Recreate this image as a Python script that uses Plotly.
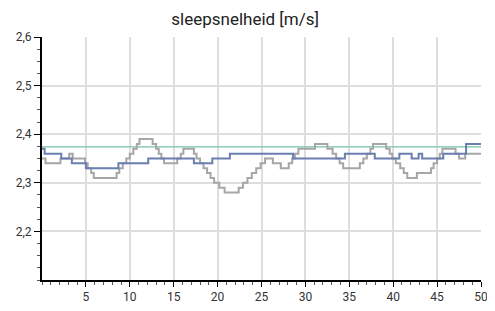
import plotly.graph_objects as go

# Gray series (step breakpoints)
gray_x = [0, 0.4, 2.1, 3.1, 3.5, 4.9, 5.2, 5.6, 5.9, 8.5, 8.8, 9.2, 9.6, 10.0, 10.4, 10.8, 11.1,
          12.6, 13.0, 13.3, 13.6, 13.9, 15.4, 15.8, 16.1, 17.3, 17.6, 18.0, 18.4, 18.8, 19.2, 19.6,
          20.2, 20.8, 22.4, 22.9, 23.4, 23.9, 24.4, 24.9, 25.4, 26.3, 27.2, 28.1, 28.5, 28.8, 29.2,
          31.1, 32.5, 33.1, 33.5, 33.9, 34.3, 36.2, 36.6, 37.0, 37.4, 37.7, 39.2, 39.6, 39.9, 40.3,
          40.8, 41.2, 41.6, 42.7, 44.3, 44.6, 45.0, 45.3, 45.6, 47.1, 47.5, 48.2, 50]
gray_y = [2.35, 2.34, 2.35, 2.36, 2.35, 2.34, 2.33, 2.32, 2.31, 2.32, 2.33, 2.34, 2.35, 2.36, 2.37, 2.38, 2.39,
          2.38, 2.37, 2.36, 2.35, 2.34, 2.35, 2.36, 2.37, 2.36, 2.35, 2.34, 2.33, 2.32, 2.31, 2.30,
          2.29, 2.28, 2.29, 2.30, 2.31, 2.32, 2.33, 2.34, 2.35, 2.34, 2.33, 2.34, 2.35, 2.36, 2.37,
          2.38, 2.37, 2.36, 2.35, 2.34, 2.33, 2.34, 2.35, 2.36, 2.37, 2.38, 2.37, 2.36, 2.35, 2.34,
          2.33, 2.32, 2.31, 2.32, 2.33, 2.34, 2.35, 2.36, 2.37, 2.36, 2.35, 2.36, 2.36]

# Blue series (step breakpoints)
blue_x = [0, 0.3, 2.2, 3.4, 5.0, 8.7, 12.1, 17.3, 19.4, 21.4, 28.6, 34.5, 37.9, 40.7, 42.1, 42.9,
          43.3, 45.7, 48.3, 50]
blue_y = [2.37, 2.36, 2.35, 2.34, 2.33, 2.34, 2.35, 2.34, 2.35, 2.36, 2.35, 2.36, 2.35, 2.36, 2.35, 2.36,
          2.35, 2.36, 2.38, 2.38]

# Green reference line
green_x = [0, 50]
green_y = [2.374, 2.374]

x_ticks = [5, 10, 15, 20, 25, 30, 35, 40, 45, 50]
y_ticks = [2.2, 2.3, 2.4, 2.5, 2.6]

FONT = "Roboto, Arial, sans-serif"

fig = go.Figure()
fig.add_trace(go.Scatter(x=green_x, y=green_y, mode="lines",
                         line=dict(color="#72c4a2", width=1.2), hoverinfo="skip"))
fig.add_trace(go.Scatter(x=gray_x, y=gray_y, mode="lines", line_shape="hv",
                         line=dict(color="#a6a6a6", width=2)))
fig.add_trace(go.Scatter(x=blue_x, y=blue_y, mode="lines", line_shape="hv",
                         line=dict(color="#6a7eaf", width=2)))

# page body has an 8px default margin, so the figure is sized to fit the window
fig.update_layout(
    width=487, height=303,
    margin=dict(l=34, r=7, t=29, b=27),
    paper_bgcolor="white", plot_bgcolor="white",
    showlegend=False,
    separators=",.",
    title=dict(text="sleepsnelheid [m/s]", xref="container", x=0.487, xanchor="center",
               yref="container", y=0.962, yanchor="middle",
               font=dict(family=FONT, size=17, color="#222")),
    font=dict(family=FONT, size=12, color="#333"),
)
fig.update_xaxes(
    range=[0, 50], tickvals=x_ticks, ticks="outside", ticklen=5, tickcolor="black", tickwidth=1,
    showline=True, linecolor="black", linewidth=2, showgrid=True, gridcolor="#dedede", gridwidth=1.5,
    zeroline=False, tickfont=dict(size=12, color="#333"),
    minor=dict(dtick=1, ticks="outside", ticklen=3, tickcolor="#555", showgrid=False),
)
fig.update_yaxes(
    range=[2.1, 2.6], tickvals=y_ticks, ticks="outside", ticklen=6, tickcolor="black", tickwidth=1,
    showline=True, linecolor="black", linewidth=2, showgrid=True, gridcolor="#dedede", gridwidth=1.5,
    zeroline=False, tickfont=dict(size=12, color="#333"), tickformat=".1f",
    minor=dict(dtick=0.025, tick0=2.1, ticks="outside", ticklen=3, tickcolor="#555", showgrid=False),
)

fig.write_html("out.html")
